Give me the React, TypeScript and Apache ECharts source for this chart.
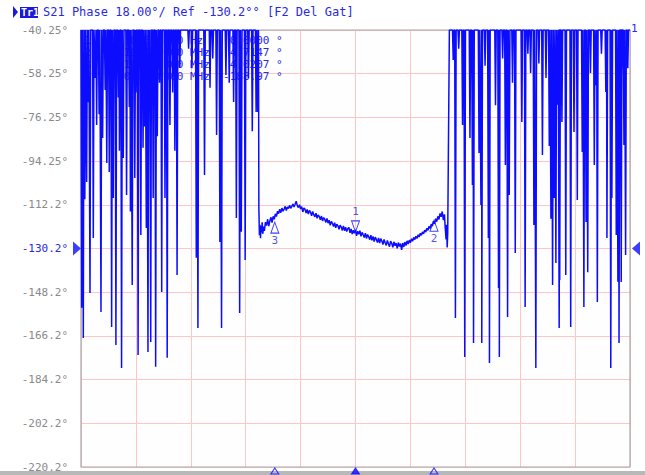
import { useEffect, useRef } from "react";
import * as echarts from "echarts";

const Y_MIN = -220.25;
const Y_MAX = -40.25;
const Y_STEP = 18;
const REF_LEVEL = -130.25;
const TRACE = "#0c0cff";
const TEXT_BLUE = "#2a2ae0";
const MONO = "'DejaVu Sans Mono', monospace";

const W = 645;
const H = 475;
const GRID = { left: 81, right: 15, top: 30, bottom: 8 };

const yTickLabels = [
  "-220.2°", "-202.2°", "-184.2°", "-166.2°", "-148.2°", "-130.2°",
  "-112.2°", "-94.25°", "-76.25°", "-58.25°", "-40.25°",
];

// wrapped phase: [position, lowest phase of the wrap] — trace rides the top edge in between
const leftSpikes: [number, number][] = [
  [0.12, -154.7], [0.42, -167.1], [0.7, -110], [1.03, -102.9], [1.3, -70], [1.64, -148.6],
  [2.24, -125.9], [2.6, -60], [2.85, -79.4], [3.3, -75], [3.64, -156.4], [3.94, -84.7],
  [4.4, -65], [4.7, -95], [5.15, -98.7], [5.58, -162.6], [5.88, -109.4], [6.36, -170.0],
  [6.8, -68], [7.0, -90], [7.39, -179.5], [7.7, -93.0], [8.3, -108.2], [8.8, -72],
  [9.0, -115], [9.33, -145.3], [9.8, -101.2], [10.0, -66], [10.4, -174.1], [10.9, -124.7],
  [11.3, -88.8], [11.6, -80], [11.9, -121.8], [12.2, -172.9], [12.4, -60], [12.7, -168.8],
  [13.15, -109.4], [13.6, -179.0], [13.9, -84], [14.3, -62], [14.7, -148.2], [15.3, -109.4],
  [15.7, -175.3], [16.2, -79.4], [16.7, -66], [17.1, -90], [17.5, -141.2], [18.0, -55.9],
  [19.6, -48], [20.2, -56], [21.0, -134.1], [21.3, -163.0], [22.5, -100.0], [23.5, -64],
  [24.0, -52], [24.7, -83.5], [25.3, -127.6], [25.6, -163.0], [26.4, -58.8], [27.0, -62],
  [27.8, -69.9], [28.3, -117.7], [28.9, -156.8], [29.2, -123.4], [29.9, -135.0], [30.5, -60],
  [31.2, -82], [31.9, -74.0], [32.2, -74.0],
];

const rightSpikes: [number, number][] = [
  [67.8, -52.6], [68.2, -158.9], [68.8, -48], [69.5, -79.4], [69.9, -174.9], [70.85, -84.7],
  [71.3, -104.1], [71.5, -169.2], [72.5, -90.9], [72.85, -112.3], [73.0, -169.2], [73.6, -55],
  [74.2, -125.9], [74.4, -177.4], [75.5, -71.2], [76.05, -146.5], [76.2, -174.9], [76.8, -52],
  [77.3, -95.9], [77.7, -158.5], [78.0, -108.2], [78.6, -62], [79.1, -132.1], [80.3, -78.1],
  [80.9, -154.3], [81.4, -50], [81.9, -58.0], [82.5, -120.6], [82.85, -179.5], [83.4, -54],
  [84.05, -91.7], [84.7, -60], [85.3, -88], [85.6, -118], [85.9, -145.3], [86.2, -109.4],
  [86.5, -136.2], [86.8, -71], [87.1, -163.0], [87.2, -143.2], [87.6, -78.1], [88.3, -141.2],
  [89.2, -162.6], [89.8, -82.3], [90.4, -110.3], [91.3, -90.5], [91.6, -154.3], [92.0, -119.3],
  [92.3, -140], [92.8, -58], [93.5, -95.9], [93.8, -63.0], [94.05, -152.3], [94.8, -50],
  [95.6, -65.8], [95.8, -125.9], [96.5, -179.5], [96.7, -109.4], [97.5, -124.7], [97.8, -143.9],
  [98.0, -169.2], [98.4, -144.0], [98.5, -60], [98.9, -87.6], [99.2, -132.9], [99.6, -56],
];

// the gated (unwrapped) stretch in the middle
const middleTrace: [number, number][] = [
  [32.4, -114.0], [32.5, -124.8], [32.6, -120.5], [32.7, -126.0], [32.8, -121.0], [32.9, -123.6],
  [33.0, -119.5], [33.1, -124.2], [33.3, -121.2], [33.4, -123.0], [33.6, -119.4], [33.8, -120.8],
  [34.0, -118.2], [34.2, -121.0], [34.4, -118.9], [34.6, -117.4], [34.8, -119.6], [35.0, -117.0],
  [35.2, -118.2], [35.4, -116.0], [35.6, -117.1], [35.8, -114.9], [36.0, -115.9], [36.2, -114.1],
  [36.4, -115.5], [36.6, -113.6], [36.8, -114.9], [37.0, -114.0], [37.2, -112.9], [37.4, -114.6],
  [37.6, -113.1], [37.8, -113.8], [38.0, -112.4], [38.2, -113.7], [38.4, -112.9], [38.6, -111.9],
  [38.8, -113.1], [39.0, -112.0], [39.2, -110.8], [39.4, -112.6], [39.6, -113.4], [39.8, -112.2],
  [40.0, -114.0], [40.2, -113.0], [40.4, -115.2], [40.6, -113.5], [40.8, -114.1], [41.0, -115.6],
  [41.2, -114.2], [41.4, -116.1], [41.6, -114.6], [41.8, -115.3], [42.0, -116.8], [42.2, -115.0],
  [42.4, -116.3], [42.6, -117.2], [42.8, -115.7], [43.0, -117.8], [43.2, -116.4], [43.4, -117.1],
  [43.6, -118.4], [43.8, -116.9], [44.0, -118.9], [44.2, -117.5], [44.4, -118.2], [44.6, -119.5],
  [44.8, -117.9], [45.0, -119.8], [45.2, -118.6], [45.4, -120.7], [45.6, -119.1], [45.8, -119.9],
  [46.0, -121.2], [46.2, -119.6], [46.4, -121.7], [46.6, -120.2], [46.8, -120.9], [47.0, -122.3],
  [47.2, -120.6], [47.4, -121.4], [47.6, -122.8], [47.8, -121.0], [48.0, -122.9], [48.2, -121.5],
  [48.4, -123.3], [48.6, -122.0], [48.8, -121.6], [49.0, -123.8], [49.2, -122.2], [49.4, -124.3],
  [49.6, -122.7], [49.8, -124.0], [50.0, -122.6], [50.2, -125.0], [50.4, -123.1], [50.6, -124.4],
  [50.8, -122.9], [51.0, -125.2], [51.2, -123.6], [51.4, -124.6], [51.6, -125.7], [51.8, -123.9],
  [52.0, -126.1], [52.2, -124.5], [52.4, -125.4], [52.6, -126.6], [52.8, -124.8], [53.0, -126.9],
  [53.2, -125.3], [53.4, -127.4], [53.6, -125.6], [53.8, -126.5], [54.0, -127.8], [54.2, -125.9],
  [54.4, -128.0], [54.6, -126.2], [54.8, -127.2], [55.0, -128.6], [55.2, -126.5], [55.4, -127.9],
  [55.6, -129.0], [55.8, -126.9], [56.0, -128.3], [56.2, -129.5], [56.4, -127.2], [56.6, -128.1],
  [56.8, -129.8], [57.0, -127.5], [57.2, -129.1], [57.4, -128.0], [57.6, -130.2], [57.8, -127.8],
  [58.0, -129.4], [58.2, -128.2], [58.4, -130.8], [58.6, -128.0], [58.8, -129.6], [59.0, -127.6],
  [59.2, -129.0], [59.4, -127.1], [59.6, -128.4], [59.8, -126.8], [60.0, -127.9], [60.2, -126.2],
  [60.4, -127.3], [60.6, -125.7], [60.8, -126.6], [61.0, -125.2], [61.2, -126.1], [61.4, -124.6],
  [61.6, -125.5], [61.8, -124.0], [62.0, -124.8], [62.2, -123.4], [62.4, -124.2], [62.6, -122.7],
  [62.8, -123.5], [63.0, -121.9], [63.2, -122.8], [63.4, -121.1], [63.6, -122.0], [63.8, -120.2],
  [64.0, -121.0], [64.2, -119.0], [64.4, -120.1], [64.6, -118.0], [64.8, -119.2], [65.0, -117.0],
  [65.2, -118.3], [65.4, -115.8], [65.6, -117.2], [65.8, -115.0], [66.0, -118.6], [66.2, -116.2],
  [66.35, -122.0], [66.5, -126.5], [66.6, -120.5], [66.7, -129.8], [66.8, -124.0],
];

const markerNames = ["1", "2", "3"];
const markerX = [50, 64.3, 35.3];
const markerPhase = [-123.4, -118.6, -119.4];

const markerReadout = [
  "1  M:  0.000000 Hz    0.0000 °",
  "2     19.000000 MHz   4.7147 °",
  "3    -19.000000 MHz   4.0207 °",
  "4    100.000000 MHz  -188.97 °",
];

const TRI_UP = "path://M4,0L8,11L0,11Z";
const TRI_DOWN = "path://M0,0L8,0L4,11Z";

function wraps(spikes: [number, number][]): [number, number][] {
  const out: [number, number][] = [];
  spikes.forEach(([x, low]) => {
    out.push([x - 0.13, Y_MAX], [x, low], [x + 0.13, Y_MAX]);
  });
  return out;
}

function buildOption(): echarts.EChartsOption {
  const trace: [number, number][] = [
    [0, Y_MAX],
    ...wraps(leftSpikes),
    ...middleTrace,
    [67.1, Y_MAX],
    ...wraps(rightSpikes),
    [100, Y_MAX],
  ];

  return {
    animation: false,
    backgroundColor: "#ffffff",
    grid: {
      ...GRID,
      show: true,
      backgroundColor: "#fefefe",
      borderWidth: 0,
    },
    xAxis: {
      type: "value",
      min: 0,
      max: 100,
      interval: 10,
      axisLabel: { show: false },
      axisTick: { show: false },
      axisLine: { show: false },
      splitLine: { lineStyle: { color: "#ffc4c4", width: 1 } },
    },
    yAxis: {
      type: "value",
      min: Y_MIN,
      max: Y_MAX,
      interval: Y_STEP,
      axisTick: { show: false },
      axisLine: { show: false },
      splitLine: { lineStyle: { color: "#ffc4c4", width: 1 } },
      axisLabel: {
        margin: 13,
        fontFamily: MONO,
        fontSize: 11,
        color: "#8a8a8a",
        formatter: (v: number) => {
          const label = yTickLabels[Math.round((v - Y_MIN) / Y_STEP)] ?? "";
          return Math.abs(v - REF_LEVEL) < 0.01 ? `{ref|${label}}` : label;
        },
        rich: { ref: { color: TEXT_BLUE, fontFamily: MONO, fontSize: 11 } },
      },
    },
    graphic: [
      {
        type: "polygon",
        shape: { points: [[13, 6], [18, 12], [13, 18]] },
        style: { fill: "#1a1ad8" },
      },
      {
        type: "rect",
        shape: { x: 20, y: 7, width: 18, height: 11 },
        style: { fill: "#1a1ad8" },
      },
      {
        type: "text",
        x: 21,
        y: 7,
        style: { text: "Tr1", fill: "#ffffff", font: `bold 10px ${MONO}` },
      },
      {
        type: "text",
        x: 43,
        y: 6,
        style: {
          text: "S21 Phase 18.00°/ Ref -130.2°° [F2 Del Gat]",
          fill: TEXT_BLUE,
          font: `12px ${MONO}`,
        },
      },
      {
        type: "text",
        x: 631,
        y: 23,
        style: { text: "1", fill: TEXT_BLUE, font: `11px ${MONO}` },
      },
      {
        type: "text",
        x: 84,
        y: 34,
        z: 1,
        style: {
          text: markerReadout.join("\n"),
          fill: TEXT_BLUE,
          font: `11px ${MONO}`,
          lineHeight: 12,
        },
      },
      {
        // plot frame
        type: "rect",
        z: 2,
        shape: {
          x: GRID.left,
          y: GRID.top,
          width: W - GRID.left - GRID.right,
          height: H - GRID.top - GRID.bottom,
        },
        style: { fill: "none", stroke: "#a8a8a8", lineWidth: 1.2 },
      },
      {
        type: "rect",
        left: 0,
        bottom: 0,
        shape: { width: W, height: 4 },
        style: { fill: "#b8b8b8" },
      },
    ],
    series: [
      {
        type: "line",
        data: trace,
        symbol: "none",
        clip: true,
        lineStyle: { color: TRACE, width: 1.5 },
        z: 3,
      },
      {
        type: "scatter",
        clip: false,
        z: 4,
        data: markerX.map((x, i) => ({
          value: [x, markerPhase[i]],
          name: markerNames[i],
          symbol: i === 0 ? TRI_DOWN : TRI_UP,
          symbolOffset: [0, i === 0 ? -5.5 : 5.5],
          label: {
            show: true,
            position: i === 0 ? "top" : "bottom",
            distance: i === 0 ? 3 : 1,
            formatter: markerNames[i],
            color: TEXT_BLUE,
            fontFamily: MONO,
            fontSize: 11,
          },
        })),
        symbolSize: [8, 11],
        itemStyle: { color: "rgba(255,255,255,0)", borderColor: TRACE, borderWidth: 1 },
      },
      {
        type: "scatter",
        clip: false,
        z: 4,
        data: markerX.map((x, i) => ({
          value: [x, Y_MIN],
          itemStyle: {
            color: i === 0 ? TRACE : "rgba(255,255,255,0)",
            borderColor: TRACE,
            borderWidth: 1,
          },
        })),
        symbol: "path://M4,0L8,6L0,6Z",
        symbolSize: [8, 6],
        symbolOffset: [0, 4],
      },
      {
        type: "scatter",
        clip: false,
        z: 4,
        data: [
          { value: [0, REF_LEVEL], symbol: "path://M0,0L8,7L0,14Z", symbolOffset: [-4, 0] },
          { value: [100, REF_LEVEL], symbol: "path://M8,0L0,7L8,14Z", symbolOffset: [6, 0] },
        ],
        symbolSize: [8, 14],
        itemStyle: { color: TRACE },
      },
    ],
  };
}

export default function App() {
  const chartRef = useRef<HTMLDivElement>(null);

  useEffect(() => {
    if (!chartRef.current) return;
    const chart = echarts.init(chartRef.current, undefined, { renderer: "svg" });
    chart.setOption(buildOption());
    return () => chart.dispose();
  }, []);

  return (
    <div
      ref={chartRef}
      style={{ position: "fixed", left: 0, top: 0, width: W, height: H, background: "#fff" }}
    />
  );
}
